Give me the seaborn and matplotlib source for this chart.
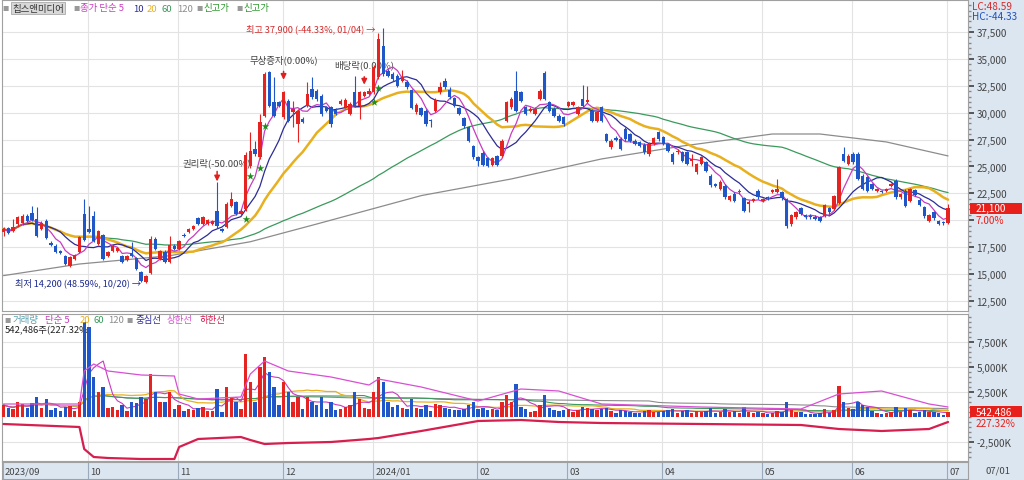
import numpy as np
import pandas as pd
import matplotlib
matplotlib.use("Agg")
import matplotlib.pyplot as plt
import matplotlib.transforms as mtrans
from matplotlib.patches import Rectangle
from matplotlib.ticker import FuncFormatter, MultipleLocator
import seaborn as sns

sns.set_theme(style="white")
plt.rcParams['font.family'] = ['Noto Sans CJK KR', 'DejaVu Sans']
plt.rcParams['axes.unicode_minus'] = False

# daily candles, 2023/09/01 .. 2024/07/01
open_ = [
    18880, 19250, 19030, 19650, 19750, 20430, 20680, 20120, 19190, 19960,
    17850, 17640, 17170, 16650, 15720, 16400, 17020, 20580, 19190, 20430,
    17800, 18630, 16710, 17170, 17170, 16710, 16340, 16960, 16460, 15220,
    14230, 15100, 18300, 16400, 17080, 16090, 17640, 17330, 18650, 18880,
    19190, 20180, 19650, 19650, 19650, 20890, 19190, 19340, 21360, 21670,
    20560, 21000, 25080, 26630, 25850, 29730, 33760, 30970, 30970, 29570,
    31120, 30040, 28950, 29420, 30660, 32210, 32050, 31590, 30500, 30500,
    30250, 30810, 30500, 29880, 31900, 30660, 31590, 31740, 31900, 33290,
    36240, 33910, 33600, 33450, 32980, 32860, 32100, 30040, 30410, 30190,
    29350, 30190, 31900, 32980, 32150, 31340, 30410, 29480, 28640, 26880,
    25850, 26260, 25760, 25140, 25950, 26010, 29260, 30500, 32050, 31900,
    30500, 30190, 29880, 31280, 33700, 30970, 30350, 29730, 29570, 30660,
    30720, 29880, 31280, 31030, 30190, 29260, 30500, 28020, 26780, 27620,
    27560, 28490, 28020, 27400, 27250, 27000, 26160, 27090, 28180, 27710,
    27090, 26160, 26320, 26320, 26320, 25540, 24460, 25230, 25390, 24150,
    23370, 22910, 23220, 21920, 22440, 22600, 22040, 21510, 21820, 22750,
    21820, 22200, 22600, 22600, 22600, 21980, 19650, 20270, 21110, 20490,
    20430, 20340, 20270, 20430, 21110, 21050, 21610, 26160, 25230, 26160,
    26160, 24150, 23990, 23370, 22750, 22750, 22750, 23160, 23680, 22130,
    22750, 21820, 22820, 21920, 21200, 19960, 20740, 19960, 19810, 19720,
]
high_ = [
    19340, 19400, 20100, 20430, 20600, 20600, 21300, 21200, 19900, 20100,
    18100, 17750, 17250, 16750, 16650, 16900, 18500, 21980, 21350, 20900,
    19100, 18700, 17100, 17750, 17500, 16800, 16750, 17950, 16550, 15300,
    14950, 18500, 18400, 17250, 17200, 18500, 17800, 18200, 18800, 19300,
    19600, 20300, 20400, 20100, 20050, 23530, 19300, 21700, 22600, 21800,
    21000, 26300, 28180, 27400, 29880, 33800, 33900, 33290, 31100, 32000,
    31300, 31100, 30300, 29600, 32830, 33290, 32200, 31700, 30650, 30600,
    30400, 31250, 31350, 30950, 33450, 32050, 32000, 32300, 34400, 37400,
    37900, 34100, 33750, 33600, 34000, 33000, 32250, 30900, 30550, 30300,
    29450, 31350, 32900, 33200, 32360, 31450, 30550, 29600, 28750, 27000,
    26000, 26400, 25900, 25900, 26100, 27550, 31100, 31450, 33910, 32050,
    30650, 30500, 30500, 32200, 33900, 31100, 30500, 29850, 29700, 31100,
    31100, 30650, 32580, 32520, 30300, 30200, 30650, 28150, 27550, 27800,
    27700, 28650, 28150, 27550, 27400, 27150, 27250, 27750, 28300, 27850,
    27200, 26300, 26600, 26450, 26450, 26160, 25350, 26000, 25550, 24300,
    23500, 23700, 23350, 22350, 22600, 22900, 22150, 21850, 22100, 22900,
    22100, 22300, 22950, 23840, 22700, 22100, 20600, 20850, 21250, 20600,
    20550, 20450, 20400, 21550, 21250, 22350, 25050, 26780, 26150, 26300,
    26300, 24300, 24100, 23500, 23000, 22850, 23000, 23500, 23800, 22550,
    22900, 23000, 22950, 22050, 21300, 20600, 20850, 20050, 19900, 21500,
]
low_ = [
    18500, 18700, 18950, 19400, 19600, 19800, 19950, 18450, 19100, 18250,
    17600, 16950, 16850, 15850, 15650, 16300, 16950, 18100, 18800, 17950,
    17700, 16300, 16600, 17000, 17050, 16000, 16250, 16550, 15400, 14300,
    14200, 15000, 17200, 16300, 16000, 16000, 17250, 17250, 18400, 18800,
    19100, 19550, 19550, 19550, 19550, 19300, 18950, 19250, 21250, 20450,
    20450, 20900, 24900, 26000, 25700, 29600, 30500, 29600, 30500, 29400,
    29100, 28640, 27250, 29000, 30500, 31300, 31100, 29700, 30050, 28640,
    29750, 30700, 30400, 29750, 30500, 29420, 31450, 31600, 31750, 33100,
    33450, 33300, 32950, 32350, 32850, 32200, 30300, 29900, 29650, 28800,
    28640, 30050, 31750, 32200, 31300, 30550, 29750, 28600, 27250, 25700,
    25080, 25000, 24950, 25000, 25000, 25900, 29100, 30350, 30050, 30950,
    29750, 30050, 29750, 31150, 31150, 30050, 29600, 29100, 28800, 30550,
    30600, 29750, 30550, 30900, 29100, 29100, 29100, 27250, 26650, 27350,
    26500, 27400, 27250, 26950, 26800, 26150, 26000, 26950, 27400, 26950,
    26350, 25250, 26200, 25400, 25100, 25080, 24300, 25100, 24450, 23100,
    23100, 22800, 21950, 21800, 21700, 22450, 20750, 20740, 21700, 22000,
    21700, 21900, 22500, 22500, 21900, 19300, 19500, 20150, 20450, 20150,
    20150, 20000, 19850, 20300, 20600, 20950, 21500, 25400, 25100, 25250,
    23700, 22800, 22600, 22800, 22650, 22500, 22650, 23050, 22000, 22000,
    21200, 21700, 22250, 21300, 20250, 19850, 20050, 19550, 19600, 19650,
]
close_ = [
    19190, 18820, 19340, 20270, 20430, 19960, 20060, 18510, 19750, 18320,
    17730, 17020, 16960, 15930, 16550, 16770, 18410, 18200, 18880, 18100,
    19000, 16400, 17020, 17640, 17400, 16090, 16650, 16650, 15470, 14380,
    14850, 18260, 17300, 17150, 16090, 17700, 17330, 18100, 18500, 19190,
    19500, 19650, 20270, 20020, 19960, 19440, 19030, 21510, 21980, 20580,
    20870, 26100, 26470, 26160, 29110, 33600, 30660, 29730, 30660, 31900,
    29260, 30350, 30190, 29110, 31740, 31430, 31280, 29880, 30190, 28950,
    29880, 31120, 31180, 30810, 30660, 31900, 31900, 32050, 34220, 36860,
    33600, 33450, 33140, 32520, 33300, 32360, 30400, 30720, 29790, 28950,
    29200, 31220, 32360, 32360, 31430, 30660, 29880, 28740, 27400, 25850,
    25540, 25140, 25080, 25760, 25140, 27400, 30970, 31280, 30190, 31120,
    29880, 30350, 30350, 32050, 31280, 30190, 29730, 29260, 28950, 30970,
    30970, 30500, 30660, 31220, 29260, 30040, 29260, 27400, 27400, 27500,
    26630, 27560, 27400, 27090, 26940, 26320, 27090, 27620, 27560, 27090,
    26470, 25390, 26470, 25540, 25230, 25700, 25230, 25850, 24610, 23280,
    23220, 23530, 22130, 22230, 21820, 22750, 20890, 21730, 21980, 22130,
    21980, 22040, 22820, 22910, 22040, 19440, 20490, 20740, 20580, 20270,
    20270, 20120, 19960, 21420, 20740, 22230, 24920, 25540, 26010, 25390,
    23840, 22910, 22750, 22910, 22910, 22600, 22910, 23370, 22130, 22440,
    21300, 22910, 22350, 21420, 20370, 20490, 20180, 19650, 19720, 21100,
]
# volume in thousand shares
volume_k = [
    1200, 900, 800, 1500, 1300, 900, 1400, 2000, 900, 1800,
    700, 900, 600, 1000, 1100, 600, 1500, 9500, 9000, 4000,
    2500, 3000, 900, 1000, 700, 1200, 600, 1500, 1400, 2000,
    1800, 4300, 2500, 1500, 1500, 2500, 800, 1200, 600, 800,
    700, 900, 1000, 600, 600, 2800, 500, 3000, 2000, 1500,
    800, 6300, 3500, 1500, 5000, 6000, 4500, 3000, 1200, 3500,
    2500, 1500, 2000, 800, 2000, 1500, 1200, 2000, 800, 1500,
    700, 800, 1000, 1200, 2500, 1800, 900, 800, 2500, 4000,
    3500, 1500, 1000, 1200, 900, 800, 1800, 900, 800, 1200,
    600, 1300, 1200, 900, 800, 700, 700, 800, 1200, 1500,
    800, 900, 700, 800, 700, 1500, 2200, 1500, 3300, 1000,
    800, 500, 600, 1200, 2200, 900, 700, 600, 700, 800,
    500, 700, 1000, 900, 800, 700, 800, 900, 600, 400,
    700, 600, 500, 400, 400, 600, 700, 500, 500, 600,
    700, 800, 400, 600, 700, 400, 600, 500, 600, 900,
    400, 500, 800, 500, 600, 400, 1000, 500, 400, 500,
    400, 300, 400, 600, 500, 1500, 700, 500, 500, 300,
    300, 300, 400, 800, 400, 700, 3100, 1500, 900, 800,
    1500, 1200, 1000, 600, 400, 300, 400, 500, 1000, 500,
    900, 700, 400, 500, 700, 500, 500, 400, 240, 542,
]

# 120-day price average read at a few days (longer history not on chart)
ma120_day = [0, 16, 35, 52, 66, 88, 107, 126, 143, 162, 172, 186, 199]
ma120_val = [14850, 15930, 16700, 18000, 19650, 22290, 23840, 25700, 26900, 28020, 28020, 27280, 25980]

# volume band lines (upper / lower), read at a few days
band_day = [0, 16, 17, 19, 22, 29, 36, 37, 41, 50, 52, 55, 60, 69, 77, 79, 88, 100, 109, 117, 126, 147, 168, 176, 185, 195, 199]
band_upper = [1300, 1300, 4600, 5300, 4600, 4200, 4100, 2300, 1800, 2000, 4300, 5600, 4600, 4000, 3200, 3800, 3000, 1600, 2800, 2600, 1300, 1000, 800, 2300, 2600, 1300, 1000]
band_lower = [-700, -1000, -3200, -4000, -4100, -4200, -4200, -3000, -2200, -2000, -2300, -2700, -2600, -2500, -2200, -2100, -1400, -400, -300, -500, -600, -700, -800, -1200, -1400, -1200, -500]

month_first = [0, 18, 37, 59, 78, 100, 119, 139, 160, 179, 199]
month_labels = ['2023/09', '10', '11', '12', '2024/01', '02', '03', '04', '05', '06', '07']
new_high_days = [51, 52, 54, 55, 78, 79]

RED = '#e52421'
BLUE = '#1f56c8'

df = pd.DataFrame({'open': open_, 'high': high_, 'low': low_, 'close': close_, 'vol': volume_k})
df['day'] = np.arange(len(df))
up = df['close'] >= df['open']
colors = np.where(up, RED, BLUE)
for n in (5, 10, 20, 60):
    df[f'ma{n}'] = df['close'].rolling(n, min_periods=1).mean()
for n in (5, 20, 60, 120):
    df[f'vma{n}'] = df['vol'].rolling(n, min_periods=1).mean()

W, H = 1024, 481
fig = plt.figure(figsize=(W / 100, H / 100), dpi=100)
fig.patch.set_facecolor('white')


def box(x0, y0, x1, y1):
    return [x0 / W, 1 - y1 / H, (x1 - x0) / W, (y1 - y0) / H]


def ftxt(x, y, s, **kw):
    kw.setdefault('va', 'center')
    kw.setdefault('fontsize', 7)
    return fig.text(x / W, 1 - y / H, s, **kw)


fig.add_artist(Rectangle((968 / W, 0), 56 / W, 1, transform=fig.transFigure,
                         facecolor='#dce6f1', edgecolor='none', zorder=-5))

ax = fig.add_axes(box(2, 1, 968, 312))
axv = fig.add_axes(box(2, 315, 968, 462), sharex=ax)
axb = fig.add_axes(box(2, 463, 968, 480), sharex=ax)

xmin, xmax = -0.32, 203.2
grid_c = '#e3e3e3'


def price_fmt(v, p):
    # the 20,000 label sits under the last-price marker
    return '' if int(v) == 20000 else f'{int(v):,}'


# ---- price panel
ax.set_xlim(xmin, xmax)
ax.set_ylim(11560, 40480)
ax.set_yticks(np.arange(12500, 37501, 2500))
ax.yaxis.set_minor_locator(MultipleLocator(500))
ax.yaxis.tick_right()
ax.yaxis.set_major_formatter(FuncFormatter(price_fmt))
ax.tick_params(axis='y', which='major', labelsize=7.2, colors='#444', length=4, pad=2, direction='out', right=True)
ax.tick_params(axis='y', which='minor', length=2, colors='#888', right=True)
ax.tick_params(axis='x', bottom=False, labelbottom=False)
ax.grid(True, axis='y', color=grid_c, lw=0.8)
for m in month_first[1:]:
    ax.axvline(m - 0.2, color=grid_c, lw=0.8, zorder=0)
    axv.axvline(m - 0.2, color=grid_c, lw=0.8, zorder=0)

ax.vlines(df['day'], df['low'], df['high'], colors=colors, lw=0.8, zorder=4)
body = (df['close'] - df['open']).abs().clip(lower=60)
ax.bar(df['day'], body, bottom=df[['open', 'close']].min(axis=1), width=0.72,
       color=colors, linewidth=0, zorder=4)

sns.lineplot(x=ma120_day, y=ma120_val, ax=ax, color='#8c8c8c', lw=0.9, zorder=3)
sns.lineplot(x=df['day'], y=df['ma60'], ax=ax, color='#3a9a5c', lw=0.9, zorder=3)
sns.lineplot(x=df['day'], y=df['ma20'], ax=ax, color='#e8b01e', lw=1.8, zorder=3)
sns.lineplot(x=df['day'], y=df['ma10'], ax=ax, color='#2c2c96', lw=0.9, zorder=3)
sns.lineplot(x=df['day'], y=df['ma5'], ax=ax, color='#c83cc0', lw=0.9, zorder=3)
ax.set_xlabel('')
ax.set_ylabel('')

ax.scatter(new_high_days, df.loc[new_high_days, 'low'] - 800, marker='*', s=34,
           color='#1d8f1d', zorder=6, linewidths=0)

ax.text(78.3, 37800, '최고 37,900 (-44.33%, 01/04) →', color='#d42a2a', fontsize=6.6,
        ha='right', va='center', zorder=1)
ax.text(28.9, 14250, '최저 14,200 (48.59%, 10/20) →', color='#1c2a8c', fontsize=6.6,
        ha='right', va='center', zorder=1)
for xi, ty, s, y0, y1 in [(45, 25420, '권리락(-50.00%)', 24800, 23350),
                          (59, 35000, '무상증자(0.00%)', 34100, 32800),
                          (76, 34530, '배당락(0.00%)', 33600, 32350)]:
    ax.text(xi, ty, s, color='#444', fontsize=6.8, ha='center', va='center', zorder=1)
    ax.annotate('', xy=(xi, y1), xytext=(xi, y0), zorder=2,
                arrowprops=dict(arrowstyle='-|>', color='#e02020', lw=1.1, mutation_scale=8))

bt = mtrans.blended_transform_factory(ax.transAxes, ax.transData)
ax.add_patch(Rectangle((1.002, 21100 - 520), 0.054, 1040, transform=bt, clip_on=False,
                       facecolor='#e8201c', edgecolor='none', zorder=6))
ax.text(1.008, 21100, '21,100', transform=bt, color='white', fontsize=7.2, va='center', zorder=7)
ax.text(1.008, 20050, '7.00%', transform=bt, color='#e8201c', fontsize=7.2, va='center')

for sp in ax.spines.values():
    sp.set_color('#a0a0a0')
    sp.set_linewidth(0.8)

# ---- volume panel
axv.set_ylim(-4400, 10300)
axv.set_yticks([-2500, 2500, 5000, 7500])
axv.yaxis.set_minor_locator(MultipleLocator(500))
axv.yaxis.tick_right()
axv.yaxis.set_major_formatter(FuncFormatter(lambda v, p: f'{int(v):,}K'))
axv.tick_params(axis='y', which='major', labelsize=7.2, colors='#444', length=4, pad=2, right=True)
axv.tick_params(axis='y', which='minor', length=2, colors='#888', right=True)
axv.tick_params(axis='x', bottom=False, labelbottom=False)
axv.grid(True, axis='y', color=grid_c, lw=0.8)
axv.bar(df['day'], df['vol'], width=0.72, color=colors, linewidth=0, zorder=4)
sns.lineplot(x=df['day'], y=df['vma120'], ax=axv, color='#8c8c8c', lw=0.8, zorder=3)
sns.lineplot(x=df['day'], y=df['vma60'], ax=axv, color='#3a9a5c', lw=0.8, zorder=3)
sns.lineplot(x=df['day'], y=df['vma20'], ax=axv, color='#e8b01e', lw=0.9, zorder=3)
sns.lineplot(x=df['day'], y=df['vma5'], ax=axv, color='#c83cc0', lw=0.8, zorder=3)
sns.lineplot(x=band_day, y=band_upper, ax=axv, color='#d94fd4', lw=0.9, zorder=5)
sns.lineplot(x=band_day, y=band_lower, ax=axv, color='#d61f4e', lw=1.6, zorder=5)
axv.set_xlabel('')
axv.set_ylabel('')
axv.text(3 / 966, 1 - 16 / 147, '542,486주(227.32%', transform=axv.transAxes,
         fontsize=6.8, color='#222', va='center', ha='left', zorder=1)

bv = mtrans.blended_transform_factory(axv.transAxes, axv.transData)
axv.add_patch(Rectangle((1.002, 542 - 560), 0.054, 1120, transform=bv, clip_on=False,
                        facecolor='#e8201c', edgecolor='none', zorder=6))
axv.text(1.008, 542, '542,486', transform=bv, color='white', fontsize=7.2, va='center', zorder=7)
axv.text(1.008, -560, '227.32%', transform=bv, color='#e8201c', fontsize=7.2, va='center')
for sp in axv.spines.values():
    sp.set_color('#a0a0a0')
    sp.set_linewidth(0.8)

# ---- date band
axb.set_facecolor('#dce6f1')
axb.set_ylim(0, 1)
axb.set_yticks([])
axb.tick_params(axis='x', bottom=False, labelbottom=False)
for m, lab in zip(month_first, month_labels):
    axb.axvline(m - 0.2, color='#9aaabb', lw=0.8)
    axb.text(m + 0.3, 0.45, lab, fontsize=6.8, color='#444', va='center', ha='left')
for sp in axb.spines.values():
    sp.set_color('#a0a0a0')
    sp.set_linewidth(0.8)
ftxt(986, 471, '07/01', fontsize=6.8, color='#444')

# ---- legends / header text
ftxt(972, 7, 'LC:48.59', color='#d42a2a', fontsize=7.2)
ftxt(972, 17, 'HC:-44.33', color='#2050c0', fontsize=7.2)

sq = dict(fontsize=4.5, color='#999')
ftxt(2, 9, '■', **sq)
ftxt(12, 9, '칩스앤미디어', fontsize=6.8, color='#333',
     bbox=dict(facecolor='#d8d8d8', edgecolor='#aaa', pad=1.0, lw=0.6))
ftxt(73, 9, '■', **sq)
ftxt(80, 9, '종가 단순 5', fontsize=6.8, color='#c83cc0')
ftxt(133, 9, '10', fontsize=6.8, color='#2c2c96')
ftxt(147, 9, '20', fontsize=6.8, color='#e8b01e')
ftxt(162, 9, '60', fontsize=6.8, color='#3a9a5c')
ftxt(177, 9, '120', fontsize=6.8, color='#8c8c8c')
ftxt(196, 9, '■', **sq)
ftxt(203, 9, '신고가', fontsize=6.8, color='#2e9a2e')
ftxt(236, 9, '■', **sq)
ftxt(243, 9, '신고가', fontsize=6.8, color='#2e9a2e')

ftxt(4, 321, '■', **sq)
ftxt(13, 321, '거래량', fontsize=6.8, color='#55a0b0')
ftxt(45, 321, '단순 5', fontsize=6.8, color='#c83cc0')
ftxt(80, 321, '20', fontsize=6.8, color='#e8b01e')
ftxt(93, 321, '60', fontsize=6.8, color='#3a9a5c')
ftxt(108, 321, '120', fontsize=6.8, color='#8c8c8c')
ftxt(126, 321, '■', **sq)
ftxt(135, 321, '중심선', fontsize=6.8, color='#2c2c96')
ftxt(167, 321, '상한선', fontsize=6.8, color='#d94fd4')
ftxt(200, 321, '하한선', fontsize=6.8, color='#d61f4e')

fig.savefig('out.png', dpi=100)
